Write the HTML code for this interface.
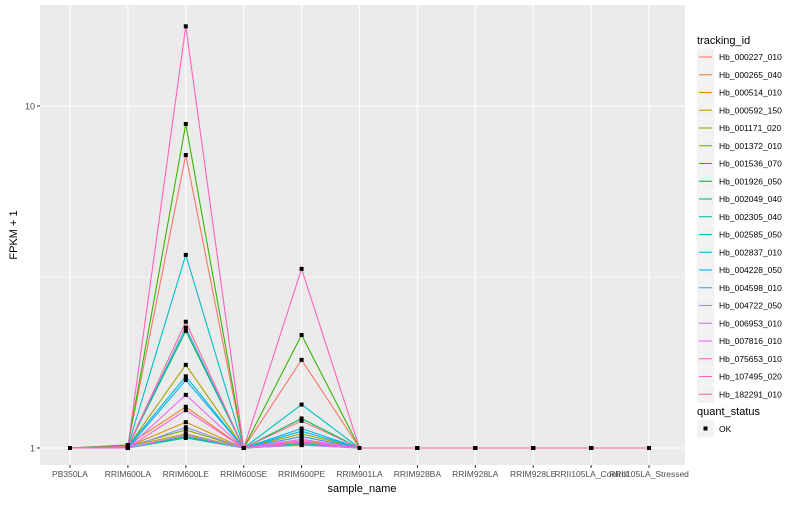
<!DOCTYPE html>
<html><head><meta charset="utf-8"><style>
body{margin:0;background:#fff;font-family:"Liberation Sans",sans-serif}
svg text{font-family:"Liberation Sans",sans-serif}
</style></head><body>
<svg id="c" width="800" height="500" xmlns="http://www.w3.org/2000/svg">
<rect x="0" y="0" width="800" height="500" fill="#fff"/>
<rect x="40" y="5" width="645" height="460" fill="#EBEBEB"/>
<g id="grid"></g><g id="lines"></g><g id="pts"></g><g id="axes"></g><g id="legend"></g>
</svg>
<script>
const categories=["PB350LA","RRIM600LA","RRIM600LE","RRIM600SE","RRIM600PE","RRIM901LA","RRIM928BA","RRIM928LA","RRIM928LE","RRII105LA_Control","RRII105LA_Stressed"];
const ids=["Hb_000227_010","Hb_000265_040","Hb_000514_010","Hb_000592_150","Hb_001171_020","Hb_001372_010","Hb_001536_070","Hb_001926_050","Hb_002049_040","Hb_002305_040","Hb_002585_050","Hb_002837_010","Hb_004228_050","Hb_004598_010","Hb_004722_050","Hb_006953_010","Hb_007816_010","Hb_075653_010","Hb_107495_020","Hb_182291_010"];
const colors=["#F8766D","#EA8331","#D89000","#C09B00","#A3A500","#7CAE00","#39B600","#00BB4E","#00BF7D","#00C1A3","#00BFC4","#00BAE0","#00B0F6","#35A2FF","#9590FF","#C77CFF","#E76BF3","#FA62DB","#FF62BC","#FF6C91"];
const valLA=[1.02,1.02,1.01,1.01,1.01,1.01,1.02,1.01,1,1,1.01,1.01,1,1.01,1,1,1,1,1.01,1.01];
const valLE=[7.19,1.32,1.19,1.10,1.75,1.13,8.86,2.2,1.08,1.07,3.67,1.62,1.58,2.25,1.15,1.09,1.43,1.29,17.1,2.34];
const valPE=[1.81,1.05,1.08,1.03,1.10,1.02,2.14,1.22,1.02,1.03,1.34,1.12,1.14,1.08,1.04,1.02,1.06,1.04,3.34,1.2];
const yTicks=[1,10];
const NS="http://www.w3.org/2000/svg";
function X(i){return 70+i*57.9;}
function Y(v){return 448-342*Math.log10(v);}
function mk(t,a,p){const e=document.createElementNS(NS,t);for(const k in a)e.setAttribute(k,a[k]);p.appendChild(e);return e;}
const G=document.getElementById('grid');
[Math.sqrt(10),Math.sqrt(1000)].forEach(v=>{const l=mk('line',{x1:40,x2:685,y1:Y(v),y2:Y(v),stroke:'#fff','stroke-width':0.5},G);

});
yTicks.forEach(v=>{const l=mk('line',{x1:40,x2:685,y1:Y(v),y2:Y(v),stroke:'#fff','stroke-width':1.1},G);

});
categories.forEach((c,i)=>{const l=mk('line',{x1:X(i),x2:X(i),y1:5,y2:465,stroke:'#fff','stroke-width':1.1},G);

});
const L=document.getElementById('lines'),P=document.getElementById('pts'),A=document.getElementById('axes'),LG=document.getElementById('legend');
function series(k){const v=categories.map(()=>1);v[1]=valLA[k];v[2]=valLE[k];v[4]=valPE[k];return v;}
for(let k=0;k<ids.length;k++){const v=series(k);
const pl=mk('polyline',{points:v.map((d,i)=>X(i)+','+Y(d)).join(' '),fill:'none',stroke:colors[k],'stroke-width':1.1},L);


v.forEach((d,i)=>{const r=mk('rect',{x:X(i)-2,y:Y(d)-2,width:4,height:4,fill:'#000'},P);

});}
yTicks.forEach(v=>{mk('line',{x1:37,x2:40,y1:Y(v),y2:Y(v),stroke:'#333'},A);
const t=mk('text',{x:35,y:Y(v)+3.5,'text-anchor':'end','font-size':9,fill:'#4d4d4d'},A);t.textContent=v;

});
categories.forEach((c,i)=>{mk('line',{x1:X(i),x2:X(i),y1:465,y2:468,stroke:'#333'},A);
const t=mk('text',{x:X(i),y:477,'text-anchor':'middle','font-size':8.5,fill:'#4d4d4d'},A);t.textContent=c;

});
let t=mk('text',{x:362,y:492,'text-anchor':'middle','font-size':11,fill:'#000'},A);t.textContent='sample_name';


t=mk('text',{x:17,y:235,'text-anchor':'middle','font-size':11,fill:'#000',transform:'rotate(-90 17 235)'},A);t.textContent='FPKM + 1';


t=mk('text',{x:697,y:44,'font-size':11,fill:'#000'},LG);t.textContent='tracking_id';


ids.forEach((id,k)=>{const y=57+k*17.75;
const g=mk('g',{},LG);


mk('rect',{x:697,y:y-8.6,width:17.3,height:17.3,fill:'#F2F2F2'},g);
mk('line',{x1:699,x2:712,y1:y,y2:y,stroke:colors[k],'stroke-width':1.1},g);
const tt=mk('text',{x:719,y:y+3,'font-size':8.5,fill:'#000'},g);tt.textContent=id;});
t=mk('text',{x:697,y:415,'font-size':11,fill:'#000'},LG);t.textContent='quant_status';


const g=mk('g',{},LG);


mk('rect',{x:697,y:420,width:17.3,height:17.3,fill:'#F2F2F2'},g);
mk('rect',{x:703.5,y:426.5,width:4,height:4,fill:'#000'},g);
const tt=mk('text',{x:719,y:432,'font-size':8.5,fill:'#000'},g);tt.textContent='OK';
</script>
</body></html>
